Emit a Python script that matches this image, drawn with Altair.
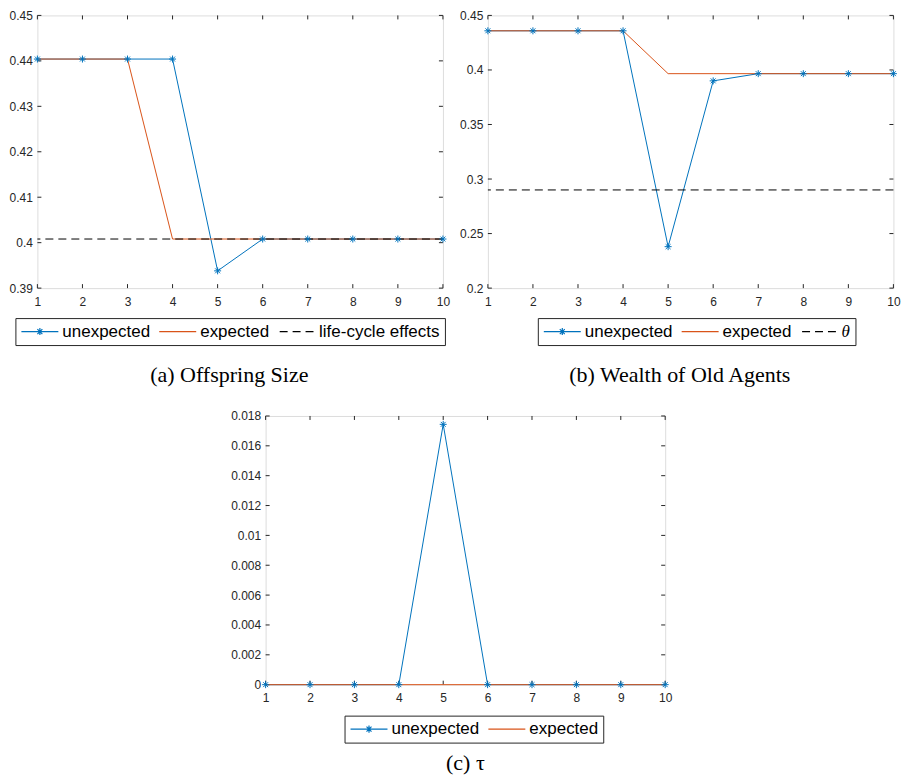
import altair as alt
import pandas as pd

# ---------------- data ----------------
X = [1, 2, 3, 4, 5, 6, 7, 8, 9, 10]

A_UNEXPECTED = [0.4404, 0.4404, 0.4404, 0.4404, 0.3938, 0.4008, 0.4008, 0.4008, 0.4008, 0.4008]
A_EXPECTED = [0.4404, 0.4404, 0.4404, 0.4008, 0.4008, 0.4008, 0.4008, 0.4008, 0.4008, 0.4008]
A_LIFECYCLE = 0.4008
A_YTICKS = [0.39, 0.40, 0.41, 0.42, 0.43, 0.44, 0.45]
A_NAMES = ["unexpected", "expected", "life-cycle effects"]

B_UNEXPECTED = [0.4359, 0.4359, 0.4359, 0.4359, 0.238, 0.390, 0.3966, 0.3966, 0.3966, 0.3966]
B_EXPECTED = [0.4359, 0.4359, 0.4359, 0.4359, 0.3966, 0.3966, 0.3966, 0.3966, 0.3966, 0.3966]
B_THETA = 0.290
B_YTICKS = [0.2, 0.25, 0.3, 0.35, 0.4, 0.45]
B_NAMES = ["unexpected", "expected", "θ"]

C_UNEXPECTED = [0, 0, 0, 0, 0.01744, 0, 0, 0, 0, 0]
C_EXPECTED = [0, 0, 0, 0, 0, 0, 0, 0, 0, 0]
C_YTICKS = [0, 0.002, 0.004, 0.006, 0.008, 0.01, 0.012, 0.014, 0.016, 0.018]
C_NAMES = ["unexpected", "expected"]

# ---------------- style ----------------
BLUE = "#0072BD"
ORANGE = "#D95319"
BLACK = "#000000"
AX = "#262626"
SANS = "Liberation Sans"
SERIF = "Liberation Serif"
TICK = 4

STAR = "M-1,0H1M0,-1V1M-0.7,-0.7L0.7,0.7M-0.7,0.7L0.7,-0.7"
LEG_UNEXP = ("M-1,0H1M-0.19,0H0.19M0,-0.19V0.19"
             "M-0.135,-0.135L0.135,0.135M-0.135,0.135L0.135,-0.135")
LEG_SOLID = "M-1,0H1"
LEG_DASH = "M-0.915,0H-0.485M-0.215,0H0.215M0.485,0H0.915"


def panel(unexp, exp, ref_val, names, yticks, ydom, w, h, lx, ly,
          caption, frame, cap_offset, italic_last=False):
    xs = alt.X("x:Q",
               scale=alt.Scale(domain=[1, 10], nice=False, zero=False),
               axis=alt.Axis(values=X, format="d", title=None, ticks=False,
                             tickSize=0, domain=False, grid=False,
                             labelPadding=8, labelFont=SANS, labelFontSize=12,
                             labelColor=AX, labelFlush=False,
                             labelOverlap=False))
    ys = alt.Y("y:Q",
               scale=alt.Scale(domain=ydom, nice=False, zero=False),
               axis=alt.Axis(values=yticks, format="~g", title=None,
                             ticks=False, tickSize=0, domain=False,
                             grid=False, labelPadding=5, labelFont=SANS,
                             labelFontSize=12, labelColor=AX,
                             labelOverlap=False))

    df_u = pd.DataFrame({"x": X, "y": unexp})
    df_e = pd.DataFrame({"x": X, "y": exp})
    ydf = pd.DataFrame({"y": yticks})
    xdf = pd.DataFrame({"x": X})

    rule = dict(color=AX, strokeWidth=1)
    t_left = alt.Chart(ydf).mark_rule(**rule).encode(
        y=ys, x=alt.value(0), x2=alt.value(TICK))
    t_right = alt.Chart(ydf).mark_rule(**rule).encode(
        y=ys, x=alt.value(w - TICK), x2=alt.value(w))
    t_bot = alt.Chart(xdf).mark_rule(**rule).encode(
        x=xs, y=alt.value(h - TICK), y2=alt.value(h))
    t_top = alt.Chart(xdf).mark_rule(**rule).encode(
        x=xs, y=alt.value(0), y2=alt.value(TICK))

    line_u = alt.Chart(df_u).mark_line(color=BLUE, strokeWidth=1).encode(x=xs, y=ys)
    line_e = alt.Chart(df_e).mark_line(color=ORANGE, strokeWidth=1).encode(x=xs, y=ys)
    layers = [t_left, t_right, t_bot, t_top, line_u, line_e]

    colors = [BLUE, ORANGE]
    paths = [LEG_UNEXP, LEG_SOLID]
    firsts = [unexp[0], exp[0]]
    if ref_val is not None:
        df_r = pd.DataFrame({"y": [ref_val]})
        layers.append(alt.Chart(df_r).mark_rule(
            color=BLACK, strokeWidth=1, strokeDash=[8, 5]).encode(y=ys))
        colors.append(BLACK)
        paths.append(LEG_DASH)
        firsts.append(ref_val)

    stars = alt.Chart(df_u).mark_point(
        shape=STAR, size=49, color=BLUE, strokeWidth=1, filled=False,
        opacity=1).encode(x=xs, y=ys)
    layers.append(stars)

    leg_kwargs = dict(
        title=None, orient="none", legendX=lx, legendY=ly,
        direction="horizontal", symbolSize=1369, symbolStrokeWidth=1.2,
        symbolOpacity=1, clipHeight=17, labelFontSize=17,
        labelColor=BLACK, labelLimit=0, labelOffset=3, columnPadding=8,
        padding=5, strokeColor=AX, fillColor="white")
    if italic_last:
        leg_kwargs["labelFont"] = alt.ExprRef(
            expr="datum.label === 'θ' ? 'Liberation Serif' : 'Liberation Sans'")
        leg_kwargs["labelFontStyle"] = alt.ExprRef(
            expr="datum.label === 'θ' ? 'italic' : 'normal'")
    else:
        leg_kwargs["labelFont"] = SANS
    leg = alt.Legend(**leg_kwargs)

    df_l = pd.DataFrame({"series": names, "x": [1] * len(names), "y": firsts})
    carrier = alt.Chart(df_l).mark_point(filled=False, opacity=0).encode(
        x=xs, y=ys,
        color=alt.Color("series:N", scale=alt.Scale(domain=names, range=colors),
                        legend=leg),
        shape=alt.Shape("series:N", scale=alt.Scale(domain=names, range=paths),
                        legend=leg),
    )
    layers.append(carrier)

    title = alt.TitleParams(text=caption, orient="bottom", anchor="middle",
                            frame=frame, font=SERIF, fontSize=22,
                            fontWeight="normal", color=BLACK, offset=cap_offset)
    return alt.layer(*layers).properties(width=w, height=h, title=title)


pa = panel(A_UNEXPECTED, A_EXPECTED, A_LIFECYCLE, A_NAMES, A_YTICKS,
           [0.39, 0.45], 406, 273, -22, 303, "(a) Offspring Size", "bounds", 19)
pb = panel(B_UNEXPECTED, B_EXPECTED, B_THETA, B_NAMES, B_YTICKS,
           [0.2, 0.45], 406, 273, 50, 303, "(b) Wealth of Old Agents",
           "bounds", 19, italic_last=True)
pc = panel(C_UNEXPECTED, C_EXPECTED, None, C_NAMES, C_YTICKS,
           [0, 0.018], 400, 269, 79, 300, "(c)  τ", "group", 10)

top = alt.hconcat(pa, pb, spacing=45, bounds="flush").resolve_scale(
    color="independent", shape="independent").resolve_legend(
    color="independent", shape="independent")

chart = alt.vconcat(top, pc, spacing=23, bounds="full", center=True).resolve_scale(
    color="independent", shape="independent").resolve_legend(
    color="independent", shape="independent").properties(padding=0).configure_view(
    stroke=AX, strokeWidth=1).configure(background="white")

chart.save("out.html", embed_options={"renderer": "svg", "actions": False})
